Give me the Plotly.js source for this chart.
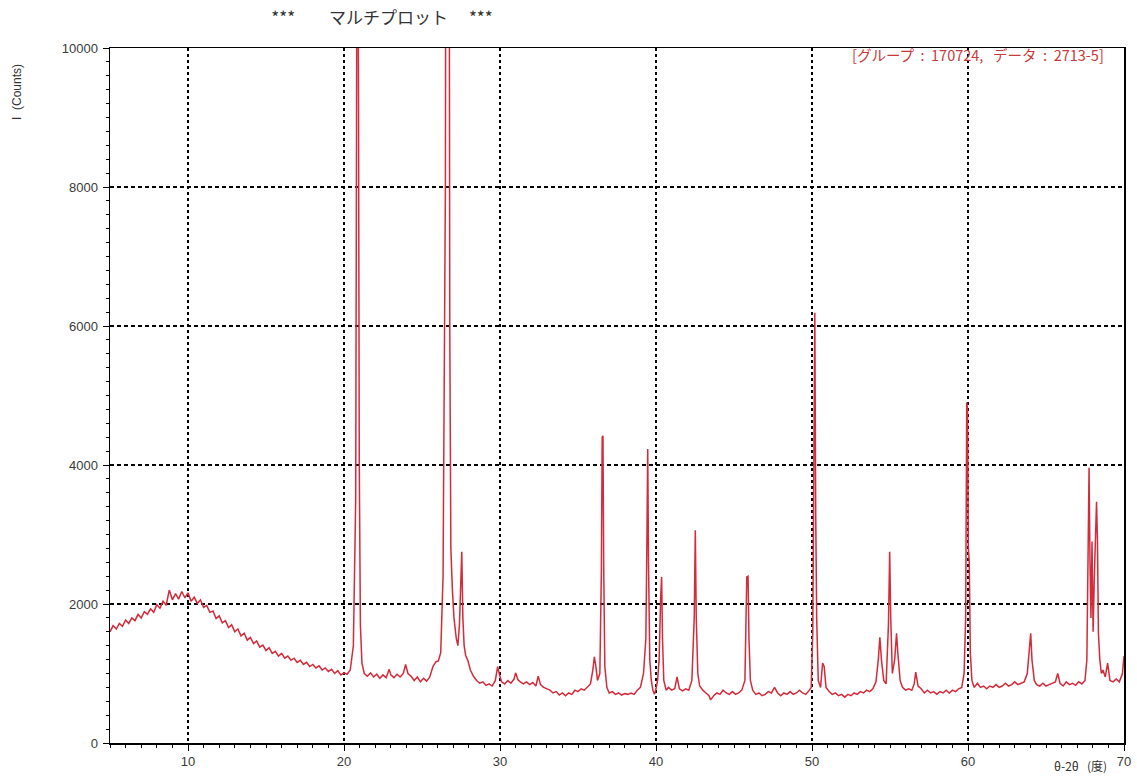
<!DOCTYPE html>
<html><head><meta charset="utf-8">
<script src="https://cdn.plot.ly/plotly-3.0.1.min.js"></script>
<style>html,body{margin:0;padding:0;background:#fff}#c{width:1137px;height:778px}</style>
</head><body><div id="c"></div>
<script>
const titleText = '***\u3000\u3000マルチプロット\u3000\u00a0***';
const yLabel = 'I\u00a0\u00a0(Counts)';
const xLabel = 'θ-2θ\u00a0\u00a0\u00a0(度)';
const sampleLabel = '[グループ\u00a0\u00a0:\u00a0\u00a0170724,\u00a0\u00a0\u00a0データ\u00a0\u00a0:\u00a0\u00a02713-5]';
const xTickVals = [10, 20, 30, 40, 50, 60, 70];
const yTickVals = [0, 2000, 4000, 6000, 8000, 10000];
const yTickText = ['0', '2000', '4000', '6000', '8000', '10000'];

const twoTheta = [
5.0,5.2,5.4,5.6,5.8,6.0,6.2,6.4,6.6,6.8,7.0,7.2,7.4,7.6,7.8,8.0,8.2,8.4,8.6,8.8,
9.0,9.2,9.4,9.6,9.8,10.0,10.2,10.4,10.6,10.8,11.0,11.2,11.4,11.6,11.8,12.0,12.2,12.4,12.6,12.8,
13.0,13.2,13.4,13.6,13.8,14.0,14.2,14.4,14.6,14.8,15.0,15.2,15.4,15.6,15.8,16.0,16.2,16.4,16.6,16.8,
17.0,17.2,17.4,17.6,17.8,18.0,18.2,18.4,18.6,18.8,19.0,19.2,19.4,19.6,19.8,20.0,20.2,20.4,20.6,20.75,
20.82,20.88,20.93,20.98,21.05,21.15,21.3,21.5,21.7,21.9,22.1,22.3,22.5,22.7,22.9,23.0,23.2,23.4,23.6,23.8,
23.95,24.1,24.3,24.5,24.7,24.9,25.1,25.3,25.5,25.7,25.9,26.05,26.2,26.35,26.5,26.58,26.64,26.7,26.78,26.85,
26.95,27.05,27.2,27.3,27.4,27.5,27.55,27.62,27.7,27.8,27.95,28.1,28.3,28.5,28.7,28.9,29.1,29.3,29.5,29.7,
29.85,29.95,30.1,30.3,30.5,30.7,30.9,31.0,31.15,31.3,31.5,31.7,31.9,32.1,32.3,32.45,32.6,32.8,33.0,33.2,
33.4,33.6,33.8,34.0,34.2,34.4,34.6,34.8,35.0,35.2,35.4,35.6,35.8,35.95,36.05,36.15,36.25,36.4,36.5,36.55,
36.6,36.65,36.72,36.85,37.0,37.2,37.4,37.6,37.8,38.0,38.2,38.4,38.6,38.8,39.0,39.2,39.35,39.42,39.47,39.52,
39.6,39.7,39.8,39.9,40.0,40.1,40.2,40.3,40.36,40.42,40.5,40.65,40.8,41.0,41.2,41.35,41.5,41.7,41.9,42.1,
42.3,42.45,42.52,42.58,42.68,42.8,43.0,43.2,43.4,43.5,43.7,43.9,44.1,44.3,44.5,44.7,44.9,45.1,45.3,45.5,
45.7,45.82,45.9,45.96,46.05,46.2,46.4,46.6,46.8,47.0,47.2,47.4,47.6,47.8,48.0,48.2,48.4,48.6,48.8,49.0,
49.2,49.4,49.6,49.8,49.95,50.05,50.12,50.18,50.24,50.3,50.4,50.55,50.68,50.78,50.9,51.1,51.3,51.5,51.7,51.9,
52.1,52.3,52.5,52.7,52.9,53.1,53.3,53.5,53.7,53.9,54.1,54.25,54.35,54.45,54.6,54.75,54.9,54.98,55.05,55.15,
55.3,55.42,55.5,55.65,55.8,56.0,56.2,56.4,56.55,56.65,56.8,57.0,57.2,57.4,57.6,57.8,58.0,58.2,58.4,58.6,
58.8,59.0,59.2,59.4,59.6,59.75,59.85,59.92,59.97,60.02,60.08,60.15,60.25,60.4,60.6,60.8,61.0,61.2,61.4,61.6,
61.8,62.0,62.2,62.4,62.6,62.8,63.0,63.2,63.4,63.6,63.8,63.95,64.02,64.1,64.25,64.4,64.6,64.8,65.0,65.2,
65.4,65.6,65.75,65.9,66.1,66.3,66.5,66.7,66.9,67.1,67.3,67.5,67.62,67.7,67.76,67.82,67.88,67.95,68.02,68.1,
68.18,68.24,68.3,68.36,68.45,68.55,68.65,68.8,68.95,69.1,69.3,69.5,69.7,69.9,70.0
];
const counts = [
1600,1690,1640,1720,1680,1770,1720,1800,1760,1850,1800,1890,1850,1930,1880,1990,1940,2040,1980,2200,
2060,2150,2070,2180,2090,2160,2040,2100,2010,2060,1950,1980,1880,1900,1790,1830,1730,1760,1660,1700,
1600,1640,1540,1580,1480,1520,1430,1470,1380,1410,1330,1370,1290,1320,1250,1290,1220,1250,1190,1220,
1160,1190,1130,1160,1100,1130,1080,1110,1050,1080,1030,1060,1000,1040,980,1010,990,1050,1400,3500,
10500,13000,9300,4000,1700,1150,1000,960,1010,950,990,930,980,940,1060,980,940,990,950,1000,
1130,1000,960,900,950,880,930,890,950,1100,1170,1180,1300,2400,8000,14000,30000,20000,6000,2800,
2200,1800,1500,1400,1700,2700,2750,1800,1400,1260,1180,1050,960,900,860,880,830,850,820,900,
1100,1000,880,850,900,860,920,1010,910,880,850,880,840,870,820,960,840,800,780,760,
720,740,690,720,680,720,700,760,740,780,760,800,850,1050,1240,1100,900,1000,2500,4400,
4420,2480,1100,800,720,740,700,720,690,710,700,720,700,760,800,1000,1500,2960,4230,2600,
1200,900,760,700,780,900,1200,2100,2390,1480,900,760,800,760,780,950,780,750,780,760,
900,1800,3060,1800,1000,820,760,720,680,620,680,720,700,760,720,700,740,700,720,760,
900,2390,2400,1500,900,760,700,720,680,700,740,720,800,720,680,720,700,740,700,720,
760,720,700,750,800,1600,4360,6190,3250,1800,900,800,1150,1100,800,740,700,720,680,700,
660,700,680,720,700,740,720,760,740,780,880,1200,1520,1200,900,850,1700,2750,1770,1000,
1200,1580,1300,900,800,760,780,760,850,1020,820,780,720,760,720,740,700,740,720,760,
720,760,740,780,800,1000,1800,4900,4800,2820,2600,1300,900,800,860,800,820,780,820,800,
840,800,820,860,820,840,880,840,860,880,1000,1450,1580,1200,900,840,820,860,820,840,
860,880,1000,860,820,880,840,860,830,880,850,900,1200,2800,3960,2600,1800,2900,1600,2400,
3000,3470,2900,1580,1200,1000,1050,950,1150,900,880,920,880,1000,1250
];

const tickFont = {family: 'Liberation Sans, Arial, sans-serif', size: 13, color: '#3a3a3a'};
const data = [{
  x: twoTheta, y: counts, type: 'scatter', mode: 'lines',
  line: {color: '#d42a3a', width: 1.5}, hoverinfo: 'skip'
}];
const layout = {
  width: 1137, height: 778,
  margin: {l: 110, r: 13, t: 48, b: 35},
  paper_bgcolor: '#fff', plot_bgcolor: '#fff',
  showlegend: false,
  title: {text: titleText, x: 0.336, xanchor: 'center', xref: 'container', y: 0.977, yanchor: 'middle', yref: 'container',
    font: {family: 'Noto Sans CJK JP, sans-serif', size: 17, color: '#333', weight: 'normal'}},
  xaxis: {range: [5, 70], tickvals: xTickVals, ticks: 'outside', ticklen: 6, tickcolor: '#000',
    showline: true, mirror: true, linecolor: '#000', linewidth: 1.5,
    showgrid: true, gridcolor: '#000', gridwidth: 1.2, griddash: '3px,3px',
    zeroline: false, tickfont: tickFont,
    minor: {dtick: 1, ticks: 'outside', ticklen: 3, tickcolor: '#000', showgrid: false}},
  yaxis: {range: [0, 10000], tickvals: yTickVals, ticktext: yTickText, ticks: 'outside', ticklen: 6, tickcolor: '#000',
    showline: true, mirror: true, linecolor: '#000', linewidth: 1.5,
    showgrid: true, gridcolor: '#000', gridwidth: 1.2, griddash: '4px,3px',
    zeroline: false, tickfont: tickFont, ticklabelstandoff: 2,
    minor: {dtick: 200, ticks: 'outside', ticklen: 3, tickcolor: '#000', showgrid: false}},
  annotations: [
    {text: yLabel, xref: 'paper', yref: 'paper', x: -0.0915, y: 0.937, textangle: -90,
      showarrow: false, xanchor: 'center', yanchor: 'middle',
      font: {family: 'Liberation Sans, Arial, sans-serif', size: 12, color: '#333'}},
    {text: xLabel, xref: 'paper', yref: 'paper', x: 0.985, y: -0.033, xanchor: 'right', yanchor: 'middle',
      showarrow: false, font: {family: 'Noto Sans CJK JP, sans-serif', size: 12, color: '#333'}},
    {text: sampleLabel, xref: 'paper', yref: 'paper', x: 0.982, y: 0.99, xanchor: 'right', yanchor: 'middle',
      showarrow: false, font: {family: 'Noto Sans CJK JP, sans-serif', size: 14.5, color: '#c83a3a'}}
  ]
};
Plotly.newPlot('c', data, layout, {displayModeBar: false, staticPlot: true});
</script></body></html>
